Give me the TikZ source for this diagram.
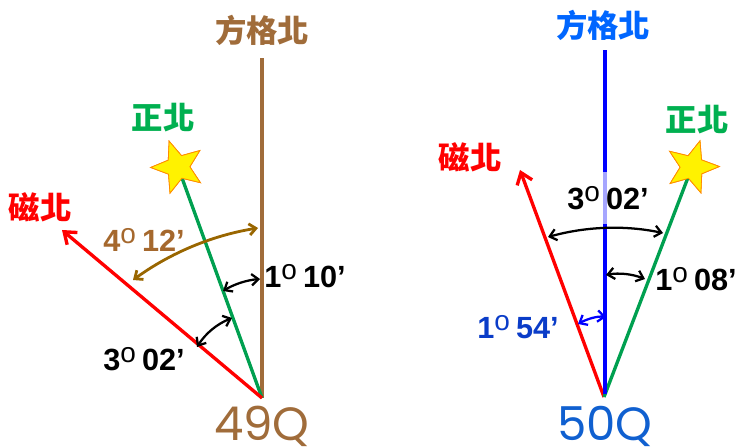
\documentclass[tikz,border=0pt]{standalone}
\usepackage{fontspec}
\setmainfont{Liberation Sans}
\newfontfamily\cjk{Noto Sans CJK TC}
\newfontfamily\numfont{Poppins}
\usetikzlibrary{shapes.geometric,arrows.meta}
\definecolor{brownC}{RGB}{160,108,58}
\definecolor{brownT}{RGB}{165,104,45}
\definecolor{arcbrown}{RGB}{153,102,0}
\definecolor{greenL}{RGB}{0,160,80}
\definecolor{greenT}{RGB}{0,176,80}
\definecolor{blueT}{RGB}{0,102,255}
\definecolor{blueZ}{RGB}{16,96,208}
\definecolor{blueLab}{RGB}{10,60,200}
\definecolor{starline}{RGB}{255,140,0}
\newcommand\dgm[2]{#1\raisebox{6pt}{\fontsize{21}{21}\selectfont\mdseries o}\hspace{0.2em}#2’}
\begin{document}
\begin{tikzpicture}[x=0.75pt,y=-0.75pt,
  lab/.style={font=\fontsize{23}{23}\selectfont\bfseries, inner sep=0pt},
  cjklab/.style={font=\cjk\bfseries\fontsize{23.5}{24}\selectfont, inner sep=0pt},
  zone/.style={font=\numfont\fontsize{35}{35}\selectfont, inner sep=0pt, anchor=base, text depth=0pt},
  axisline/.style={line width=2.5pt},
  vline/.style={line width=2.5pt},
  mainarrow/.style={axisline, -{Straight Barb[length=8pt,width=12pt]}},
  dbl/.style={{Straight Barb[length=5pt,width=8.5pt]}-{Straight Barb[length=5pt,width=8.5pt]}, line width=1.7pt},
  starnode/.style={star, star points=5, star point ratio=2.3, minimum size=41pt, inner sep=0pt, fill=yellow, draw=starline, line width=0.6pt}
]
\useasboundingbox (0,0) rectangle (737,448);

% ---------- left: 49Q ----------
\coordinate (o1) at (262,398);
\coordinate (g1) at (262,58);
\coordinate (m1) at (62,230);
\draw[vline, brownC] (o1) -- (g1);
\node[starnode, shape border rotate=19] (s1) at (178,167) {};
\draw[axisline, greenL] (o1) -- (s1.center);
\node[starnode, shape border rotate=19] (s1b) at (178,167) {};
\draw[mainarrow, red] (o1) -- (m1);

\node[cjklab, text=brownC] (gn1) at (262,30) {方格北};
\node[cjklab, text=greenT] (tn1) at (163,118) {正北};
\node[cjklab, text=red] (mn1) at (40,207) {磁北};
\node[zone, text=brownC] (z1) at (262,440) {49Q};

\coordinate (a1l) at (133,280);
\coordinate (a1r) at (258,228);
\draw[dbl, arcbrown, line width=2.1pt] (a1l) .. controls (170.6,252.8) and (212.2,235.4) .. (a1r);
\coordinate (b1l) at (223,291);
\coordinate (b1r) at (260,279);
\draw[dbl, black] (b1l) .. controls (234.4,284.1) and (246.8,280.1) .. (b1r);
\coordinate (c1l) at (197,347);
\coordinate (c1r) at (232,318);
\draw[dbl, black] (c1l) .. controls (205.5,333.5) and (217.1,323.9) .. (c1r);

\node[lab, text=brownT] (l412) at (144,240) {\dgm{4}{12}};
\node[lab] (l110) at (305,276) {\dgm{1}{10}};
\node[lab] (l302a) at (144,359) {\dgm{3}{02}};

% ---------- right: 50Q ----------
\coordinate (o2) at (604,397);
\coordinate (g2t) at (605,50);
\coordinate (g2b) at (605,394);
\coordinate (m2) at (520,170);
\draw[mainarrow, red] (o2) -- (m2);
\node[starnode, shape border rotate=-17] (s2) at (692,167) {};
\draw[axisline, greenL] (o2) -- (s2.center);
\node[starnode, shape border rotate=-17] (s2b) at (692,167) {};
\draw[vline, blue] (g2b) -- (g2t);

\node[cjklab, text=blueT] (gn2) at (603,25) {方格北};
\node[cjklab, text=greenT] (tn2) at (697,120) {正北};
\node[cjklab, text=red] (mn2) at (470,157) {磁北};
\node[zone, text=blueZ] (z2) at (605,440) {50Q};

\coordinate (a2l) at (548,237);
\coordinate (a2r) at (663,233);
\draw[dbl, black] (a2l) .. controls (586.3,226.4) and (624.7,225) .. (a2r);
\coordinate (b2l) at (606,275);
\coordinate (b2r) at (645,279);
\draw[dbl, black] (b2l) .. controls (619,272.5) and (632,274) .. (b2r);
\coordinate (c2l) at (578,324);
\coordinate (c2r) at (606,317);
\draw[dbl, blue] (c2l) .. controls (587,319) and (597,316) .. (c2r);

\node[lab, fill=white, fill opacity=0.65, text opacity=1, inner xsep=0pt, inner ysep=11pt] (l302b) at (608,198) {\dgm{3}{02}};
\node[lab] (l108) at (696,279) {\dgm{1}{08}};
\node[lab, text=blueLab] (l154) at (518,327) {\dgm{1}{54}};
\end{tikzpicture}
\end{document}
